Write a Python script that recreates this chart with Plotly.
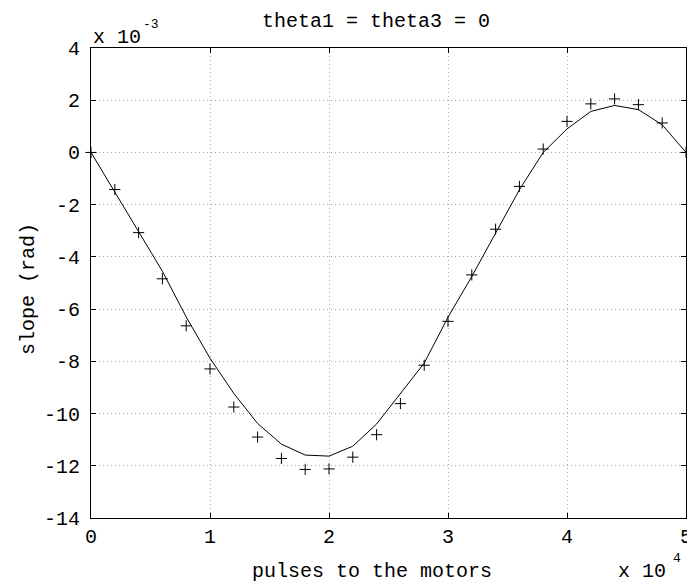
import plotly.graph_objects as go

# pulses to the motors (units of 1e4)
pulses = [0.0, 0.2, 0.4, 0.6, 0.8, 1.0, 1.2, 1.4, 1.6, 1.8, 2.0, 2.2, 2.4,
          2.6, 2.8, 3.0, 3.2, 3.4, 3.6, 3.8, 4.0, 4.2, 4.4, 4.6, 4.8, 5.0]

# measured slope (units of 1e-3 rad)
measured = [0.0, -1.42, -3.07, -4.84, -6.64, -8.29, -9.75, -10.90, -11.72,
            -12.14, -12.12, -11.67, -10.81, -9.62, -8.15, -6.47, -4.69,
            -2.94, -1.30, 0.13, 1.19, 1.86, 2.05, 1.83, 1.13, 0.0]

# model slope (units of 1e-3 rad)
model = [0.0, -1.50, -3.05, -4.55, -6.30, -7.88, -9.23, -10.38, -11.17,
         -11.59, -11.63, -11.25, -10.40, -9.23, -8.07, -6.31, -4.75,
         -3.09, -1.43, 0.0, 0.90, 1.57, 1.80, 1.64, 1.06, 0.0]

x_ticks = [0, 1, 2, 3, 4, 5]
y_ticks = [-14, -12, -10, -8, -6, -4, -2, 0, 2, 4]

FONT = "Liberation Mono"
FS = 20

fig = go.Figure()
fig.add_trace(go.Scatter(
    x=pulses, y=model, mode="lines",
    line=dict(color="black", width=1), showlegend=False,
))
fig.add_trace(go.Scatter(
    x=pulses, y=measured, mode="markers",
    marker=dict(symbol="cross-thin", size=8, color="black",
                line=dict(color="black", width=1)),
    showlegend=False, cliponaxis=False,
))

axis_common = dict(
    showline=True, linecolor="black", linewidth=1, mirror="ticks",
    ticks="inside", ticklen=5, tickcolor="black", tickwidth=1,
    showgrid=True, gridcolor="#a8a8a8", gridwidth=1, griddash="1px,3px",
    zeroline=False, ticklabeloverflow="allow", automargin=False,
    tickfont=dict(family=FONT, size=FS, color="black"),
)

fig.update_xaxes(
    range=[0, 5], tickvals=x_ticks, ticktext=[str(v) for v in x_ticks],
    title=dict(text=""),
    **axis_common,
)
fig.update_yaxes(
    range=[-14, 4], tickvals=y_ticks, ticktext=[str(v) for v in y_ticks],
    ticklabelstandoff=6,
    title=dict(text=""),
    **axis_common,
)

txt = dict(family=FONT, size=FS, color="black")
sup = dict(family=FONT, size=13, color="black")

fig.update_layout(
    width=687, height=585,
    margin=dict(l=91, r=1, t=48, b=67, autoexpand=False),
    paper_bgcolor="white", plot_bgcolor="white",
    annotations=[
        # title
        dict(text="theta1 = theta3 = 0", xref="paper", yref="paper",
             x=0.5, y=1, xshift=-13, yshift=27, xanchor="center",
             yanchor="middle", showarrow=False, font=txt),
        # x-axis label
        dict(text="pulses to the motors", xref="paper", yref="paper",
             x=0.5, y=0, xshift=-17, yshift=-53, xanchor="center",
             yanchor="middle", showarrow=False, font=txt),
        # y-axis label
        dict(text="slope (rad)", xref="paper", yref="paper",
             x=0, y=0.5, xshift=-63, yshift=-6, xanchor="center",
             yanchor="middle", textangle=-90, showarrow=False, font=txt),
        # y scale factor
        dict(text="x 10", xref="paper", yref="paper", x=0, y=1,
             xanchor="left", yanchor="bottom", yshift=-3, xshift=0,
             showarrow=False, font=txt),
        dict(text="-3", xref="paper", yref="paper", x=0, y=1,
             xanchor="left", yanchor="bottom", yshift=14, xshift=50,
             showarrow=False, font=sup),
        # x scale factor
        dict(text="x 10", xref="paper", yref="paper", x=1, y=0,
             xanchor="right", yanchor="top", yshift=-40, xshift=-18,
             showarrow=False, font=txt),
        dict(text="4", xref="paper", yref="paper", x=1, y=0,
             xanchor="right", yanchor="top", yshift=-31, xshift=-3,
             showarrow=False, font=sup),
    ],
)

fig.write_html("out.html")
